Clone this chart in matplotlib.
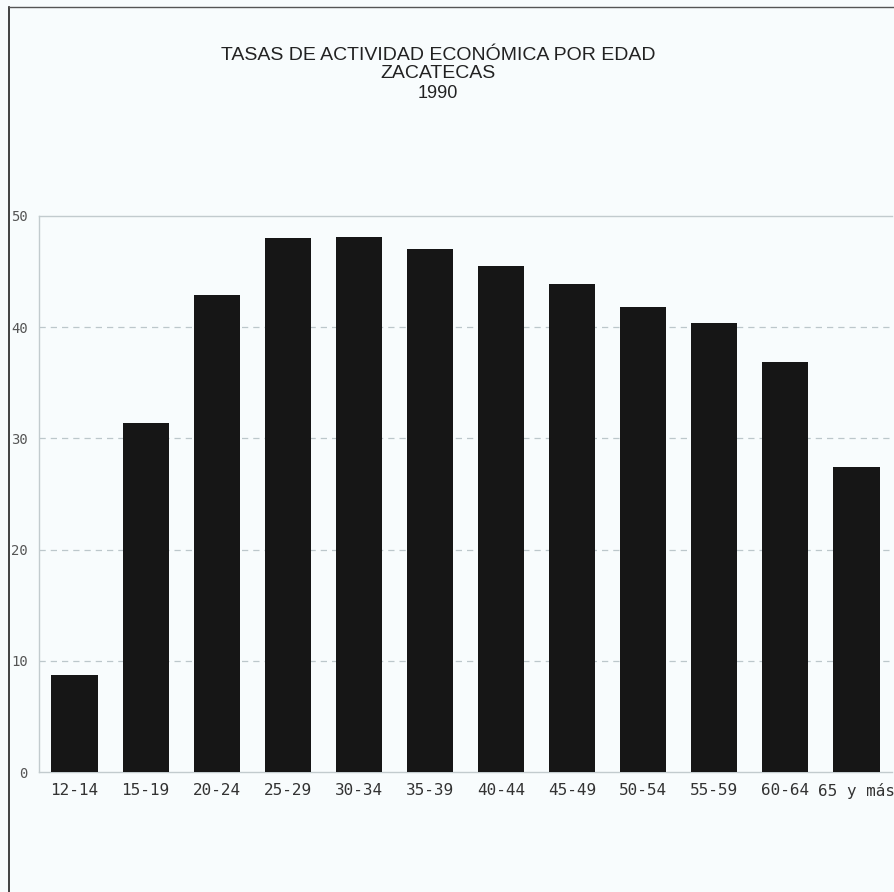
import numpy as np
import matplotlib.pyplot as plt
from matplotlib.lines import Line2D

plt.rcParams['font.family'] = ['Liberation Sans', 'DejaVu Sans']

# tasas de actividad economica por grupo de edad, Zacatecas 1990
grupos = ['12-14', '15-19', '20-24', '25-29', '30-34', '35-39',
          '40-44', '45-49', '50-54', '55-59', '60-64', '65 y más']
tasas = [8.7, 31.4, 42.9, 48.0, 48.1, 47.0,
         45.5, 43.9, 41.8, 40.4, 36.9, 27.4]
yticks = [0, 10, 20, 30, 40, 50]

W, H = 895, 892
fig = plt.figure(figsize=(W / 100, H / 100), dpi=100)
fig.patch.set_facecolor('#f8fcfd')

ax = fig.add_axes([39 / W, 1 - 772 / H, (892 - 39) / W, (772 - 216) / H])
ax.set_facecolor('none')

x = np.arange(len(grupos))
ax.bar(x, tasas, width=0.65, color='#161616', zorder=3)

ax.set_xlim(-0.5, 11.5)
ax.set_ylim(0, 50)
ax.set_yticks(yticks)
ax.set_yticklabels([str(v) for v in yticks], family='DejaVu Sans Mono')
ax.set_xticks(x)
ax.set_xticklabels(grupos, family='DejaVu Sans Mono', fontsize=11.5, color='#333333')
ax.tick_params(axis='x', length=0, pad=8)
ax.tick_params(axis='y', length=0, pad=8, labelsize=10, labelcolor='#555555')

for v in yticks[1:-1]:
    ax.axhline(v, color='#bcc7cb', lw=0.9, ls=(0, (5, 4)), zorder=1)

for side in ['top', 'left', 'bottom']:
    ax.spines[side].set_color('#c2cbce')
    ax.spines[side].set_linewidth(1.0)
ax.spines['right'].set_visible(False)

# marco exterior de la pagina
fig.add_artist(Line2D([9 / W, 9 / W], [0, 1 - 7 / H], color='#222222', lw=1.2))
fig.add_artist(Line2D([9 / W, 1], [1 - 7 / H, 1 - 7 / H], color='#555555', lw=1.0))

fig.text(438 / W, 1 - 55 / H, 'TASAS DE ACTIVIDAD ECONÓMICA POR EDAD',
         ha='center', va='center', fontsize=14, color='#222222')
fig.text(438 / W, 1 - 74 / H, 'ZACATECAS', ha='center', va='center',
         fontsize=14, color='#222222')
fig.text(438 / W, 1 - 94 / H, '1990', ha='center', va='center',
         fontsize=13, color='#222222')

fig.savefig('out.png', dpi=100, facecolor=fig.get_facecolor())
